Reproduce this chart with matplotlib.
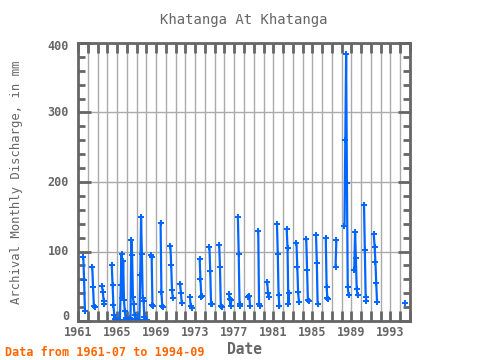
import numpy as np
import matplotlib
matplotlib.use("Agg")
import matplotlib.pyplot as plt
from matplotlib.ticker import MultipleLocator

# start month of each run of records, and the monthly values (mm) of that run
seg_start = ["1961-07", "1962-06", "1963-06", "1964-06", "1968-06", "1969-06",
             "1970-06", "1971-06", "1972-06", "1973-06", "1974-06", "1975-06",
             "1976-06", "1977-05", "1978-06", "1979-06", "1980-05", "1981-05",
             "1982-05", "1983-05", "1984-05", "1985-05", "1986-05", "1987-05",
             "1988-04", "1989-04", "1990-04", "1991-04", "1994-06"]
seg_values = [
    [92, 59, 14],
    [78, 49, 21, 20],
    [50, 42, 29, 24],
    [80, 52, 23, 9, 3, 2, 2,
     2, 2, 2, 2, 52, 97, 33, 87, 30, 14, 4, 2,
     2, 2, 2, 2, 4, 117, 95, 35, 24, 8, 3, 2,
     2, 2, 2, 2, 66, 149, 97, 33, 29, 6, 2, 2,
     2],
    [95, 92, 23, 22],
    [141, 42, 22, 20],
    [108, 81, 45, 33],
    [53, 40, 26],
    [35, 21, 18],
    [89, 60, 35, 36],
    [106, 72, 25, 24],
    [109, 77, 21, 20],
    [39, 31, 22, 30],
    [149, 96, 25, 22],
    [34, 36, 21],
    [129, 25, 21],
    [56, 40, 35],
    [140, 97, 37, 21],
    [132, 105, 24, 40],
    [112, 78, 42, 28],
    [118, 73, 30, 29],
    [124, 83, 24, 25],
    [119, 49, 33, 31],
    [78, 116],
    [137, 260, 384, 198, 49, 37],
    [73, 128, 90, 46, 37],
    [167, 102, 35, 29],
    [125, 107, 85, 54, 28],
    [26],
]
year_labels = [1961, 1965, 1969, 1973, 1977, 1981, 1985, 1989, 1993]
y_ticks = [0, 100, 200, 300, 400]

# decimal-year dates (mid month), NaN between runs so the line breaks
xs, ys = [], []
for start, vals in zip(seg_start, seg_values):
    y0, m0 = int(start[:4]), int(start[5:])
    for i, v in enumerate(vals):
        m = m0 - 1 + i
        xs.append(y0 + m // 12 + (m % 12 + 0.5) / 12)
        ys.append(v)
    xs.append(np.nan)
    ys.append(np.nan)

grey = "#666666"
plt.rcParams["font.family"] = ["DejaVu Sans Mono"]

fig = plt.figure(figsize=(4.8, 3.6), dpi=100)
ax = fig.add_axes([78 / 480, 39 / 360, 332 / 480, 278 / 360])

ax.plot(xs, ys, color="#0066ff", lw=1.6, marker="+", ms=4, mew=1.4)

ax.set_xlim(1961, 1995)
ax.set_ylim(0, 400)
ax.set_xticks(range(1961, 1996))
ax.set_xticklabels([str(y) if y in year_labels else "" for y in range(1961, 1996)])
ax.set_yticks(y_ticks)
ax.set_yticklabels([])
ax.yaxis.set_minor_locator(MultipleLocator(20))

ax.grid(True, axis="x", color="#aaaaaa", lw=1)
ax.grid(True, axis="y", which="major", color="#aaaaaa", lw=1)
ax.set_axisbelow(True)

ax.tick_params(axis="both", which="both", direction="in", top=True, right=True,
               color=grey, labelcolor=grey, labelsize=8.5, width=2)
ax.tick_params(axis="x", length=7)
ax.tick_params(axis="y", which="major", length=9)
ax.tick_params(axis="y", which="minor", length=5)
for lab in ax.get_xticklabels():
    lab.set_fontweight("bold")
for s in ax.spines.values():
    s.set_color(grey)
    s.set_linewidth(2)

# y tick labels; the end ones sit a little inside the frame
for v in y_ticks:
    dy = 5 if v == y_ticks[0] else (-4 if v == y_ticks[-1] else 0)
    ax.annotate(str(v), (0, v), xycoords=("axes fraction", "data"),
                xytext=(-6.5, dy * 0.72), textcoords="offset points",
                ha="right", va="center", color=grey, fontsize=8.5,
                fontweight="bold")

ax.set_title("Khatanga At Khatanga", color=grey, fontsize=10, pad=14)
ax.set_ylabel("Archival Monthly Discharge, in mm", color=grey, fontsize=8.8)
ax.yaxis.set_label_coords(-55 / 332, 0.5)
ax.set_xlabel("Date", color=grey, fontsize=10.5, fontweight="bold", labelpad=2)
fig.text(5 / 480, 1 - 352 / 360, "Data from 1961-07 to 1994-09", color="#ff6600",
         fontsize=8.5, fontweight="bold", va="center")

fig.savefig("out.png", dpi=100)
